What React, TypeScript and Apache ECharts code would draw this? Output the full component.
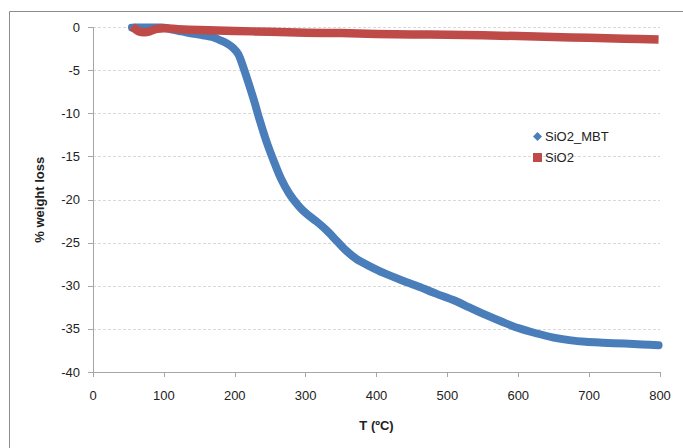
import React, { useEffect, useRef } from "react";
import * as echarts from "echarts";

const xTicks = [0, 100, 200, 300, 400, 500, 600, 700, 800];
const yTicks = [0, -5, -10, -15, -20, -25, -30, -35, -40];

const mbtT = [55, 65, 75, 85, 95, 110, 125, 140, 155, 170, 180, 190, 198, 205, 212, 220, 228, 235, 245, 255, 265, 277, 290, 301, 315, 329, 343, 357, 372, 390, 410, 437, 460, 484, 510, 531, 555, 578, 600, 625, 650, 672, 695, 719, 750, 775, 798];
const mbtW = [0, 0.1, 0.2, 0.25, 0.1, -0.2, -0.45, -0.7, -0.9, -1.15, -1.5, -1.9, -2.4, -3.1, -4.6, -6.6, -8.7, -10.7, -13.3, -15.5, -17.5, -19.3, -20.7, -21.6, -22.5, -23.5, -24.7, -25.9, -26.9, -27.7, -28.5, -29.4, -30.1, -30.9, -31.7, -32.5, -33.4, -34.2, -34.9, -35.5, -36.0, -36.3, -36.5, -36.6, -36.7, -36.8, -36.9];

const sio2T = [55, 60, 65, 72, 80, 90, 100, 120, 150, 200, 250, 300, 350, 400, 450, 500, 550, 600, 650, 700, 750, 798];
const sio2W = [0.1, -0.2, -0.45, -0.55, -0.45, -0.15, -0.1, -0.2, -0.3, -0.4, -0.5, -0.6, -0.65, -0.75, -0.8, -0.85, -0.9, -1.0, -1.1, -1.2, -1.3, -1.4];

const seriesNames = ["SiO2_MBT", "SiO2"];
const xTitle = "T (ºC)";
const yTitle = "% weight loss";

const FONT = "'Liberation Sans', Arial, sans-serif";

export default function App() {
  const ref = useRef<HTMLDivElement>(null);
  useEffect(() => {
    if (!ref.current) return;
    const chart = echarts.init(ref.current, null, { renderer: "svg" });
    const mbt = mbtT.map((t, i) => [t, mbtW[i]]);
    const sio2 = sio2T.map((t, i) => [t, sio2W[i]]);
    chart.setOption({
      animation: false,
      backgroundColor: "#ffffff",
      textStyle: { fontFamily: FONT },
      graphic: [
        {
          type: "rect",
          shape: { x: 9.5, y: 11.5, width: 720, height: 480 },
          style: { fill: "none", stroke: "#8c8c8c", lineWidth: 1 },
          silent: true,
        },
      ],
      legend: {
        orient: "vertical",
        left: 528,
        top: 125,
        itemWidth: 9,
        itemHeight: 9,
        itemGap: 8,
        textStyle: { fontSize: 13, color: "#222", fontFamily: FONT, padding: [0, 0, 0, -2] },
        data: [
          { name: seriesNames[0], icon: "diamond" },
          { name: seriesNames[1], icon: "rect" },
        ],
      },
      grid: { left: 93, right: 23, top: 27.5, bottom: 76, containLabel: false },
      xAxis: {
        type: "value",
        min: xTicks[0],
        max: xTicks[xTicks.length - 1],
        interval: 100,
        name: xTitle,
        nameLocation: "middle",
        nameGap: 47,
        nameTextStyle: { fontSize: 13, fontWeight: "bold", color: "#222", fontFamily: FONT },
        axisLine: { onZero: false, lineStyle: { color: "#a6a6a6", width: 1 } },
        axisTick: { show: true, inside: false, length: 5, lineStyle: { color: "#a6a6a6" } },
        axisLabel: { fontSize: 13, color: "#222", margin: 17, fontFamily: FONT },
        splitLine: { show: false },
      },
      yAxis: {
        type: "value",
        min: yTicks[yTicks.length - 1],
        max: yTicks[0],
        interval: 5,
        name: yTitle,
        nameLocation: "middle",
        nameGap: 47,
        nameRotate: 90,
        nameTextStyle: { fontSize: 13, fontWeight: "bold", color: "#222", fontFamily: FONT },
        axisLine: { show: true, lineStyle: { color: "#a6a6a6", width: 1 } },
        axisTick: { show: true, inside: false, length: 5, lineStyle: { color: "#a6a6a6" } },
        axisLabel: { fontSize: 13, color: "#222", margin: 13, fontFamily: FONT },
        splitLine: { show: true, lineStyle: { color: "#d9d9d9", type: [3, 2], width: 1 } },
      },
      series: [
        {
          name: seriesNames[0],
          type: "line",
          data: mbt,
          smooth: 0.3,
          showSymbol: false,
          symbol: "diamond",
          itemStyle: { color: "#4a7ebb" },
          lineStyle: { color: "#4a7ebb", width: 8, cap: "round", join: "round" },
          z: 2,
        },
        {
          name: seriesNames[1],
          type: "line",
          data: sio2,
          smooth: 0.3,
          showSymbol: false,
          symbol: "rect",
          itemStyle: { color: "#be4b48" },
          lineStyle: { color: "#be4b48", width: 8.5, cap: "butt", join: "round" },
          z: 3,
        },
      ],
    });
    return () => chart.dispose();
  }, []);
  return <div ref={ref} style={{ width: 683, height: 448, position: "absolute", left: 0, top: 0 }} />;
}
